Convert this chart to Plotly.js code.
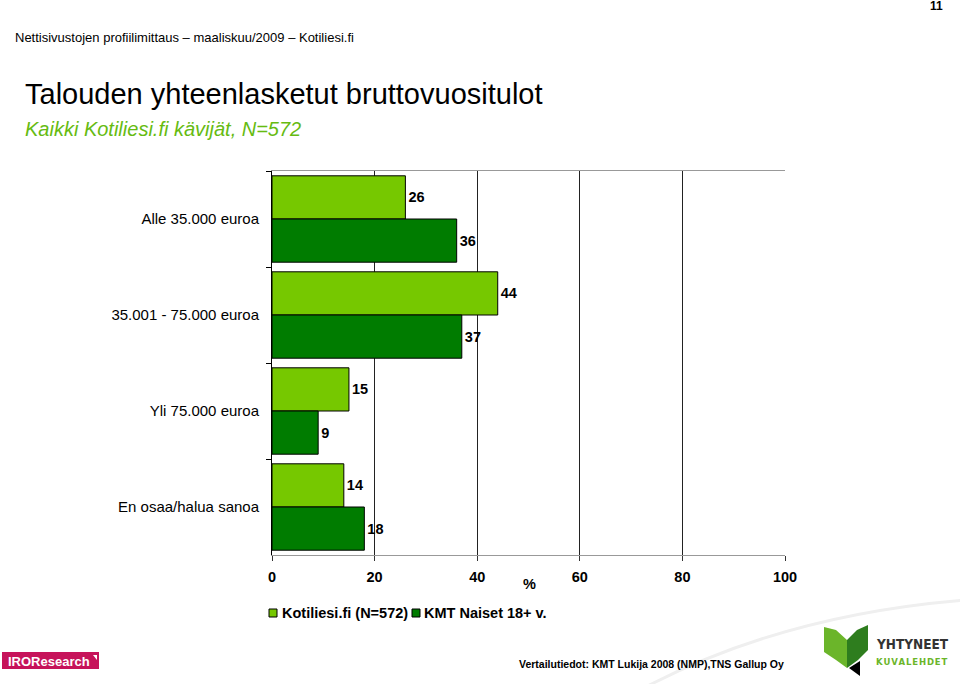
<!DOCTYPE html>
<html><head><meta charset="utf-8">
<script src="https://cdn.plot.ly/plotly-3.0.1.min.js"></script>
<style>html,body{margin:0;padding:0;background:#fff;}#chart{width:960px;height:684px;}</style>
</head><body><div id="chart"></div>
<script>
const categories = ["Alle 35.000 euroa", "35.001 - 75.000 euroa", "Yli 75.000 euroa", "En osaa/halua sanoa"];
const seriesNames = ["Kotiliesi.fi (N=572)", "KMT Naiset 18+ v."];
const kotiliesi = [26, 44, 15, 14];
const kmtNaiset = [36, 37, 9, 18];
const xTicks = [0, 20, 40, 60, 80, 100];

const FONT = "Liberation Sans, Arial, sans-serif";
const COLORS = ['#76C800', '#007C00'];
const L = 272, R = 785, T = 171, B = 555;
const X = px => (px - L) / (R - L);
const Y = py => (B - py) / (B - T);

const mk = (name, vals, color) => ({
  type: 'bar', orientation: 'h', name: name, x: vals, y: categories,
  marker: {color: color, line: {color: '#000', width: 1}},
  texttemplate: '%{x}', textposition: 'outside', cliponaxis: false,
  textfont: {family: FONT, size: 14.5, color: '#000', weight: 'bold'},
  hoverinfo: 'x+name'
});
const data = [mk(seriesNames[0], kotiliesi, COLORS[0]), mk(seriesNames[1], kmtNaiset, COLORS[1])];

const txt = (text, px, py, size, opts) => Object.assign({
  text: text, xref: 'paper', yref: 'paper', x: X(px), y: Y(py), showarrow: false,
  xanchor: 'left', yanchor: 'middle', font: {family: FONT, size: size, color: '#000'}
}, opts || {});

const HS = '\u200A';
const annotations = [
  txt('Nettisivustojen profiilimittaus – maaliskuu/2009 – Kotiliesi.fi', 13, 37, 13),
  txt('<b>11</b>', 945, 6, 12, {xanchor: 'right'}),
  txt('Talouden yhteenlasketut bruttovuositulot', 23, 94, 29),
  txt('<i>Kaikki Kotiliesi.fi kävijät, N=572</i>', 23, 129, 20, {font: {family: FONT, size: 20, color: '#66BB11'}}),
  txt('<b>%</b>', 529, 584, 14.5, {xanchor: 'center'}),
  // legend
  txt('<b>' + seriesNames[0] + '</b>', 280, 613, 14.5),
  txt('<b>' + seriesNames[1] + '</b>', 422, 613, 14.5),
  txt('<b>Vertailutiedot: KMT Lukija 2008 (NMP),TNS Gallup Oy</b>', 517, 664, 10.5),
  txt('<b>IROResearch</b>', 6, 661, 13, {font: {family: FONT, size: 13, color: '#fff'}}),
  txt('<b>YHTYNEET</b>', 874, 644, 13.5, {font: {family: 'DejaVu Sans Condensed, DejaVu Sans, sans-serif', size: 13.5, color: '#333', weight: 'bold'}}),
  txt('<b>' + 'KUVALEHDET'.split('').join(HS) + '</b>', 874, 662, 8.5, {font: {family: 'DejaVu Sans, sans-serif', size: 8.5, color: '#6BB52A'}})
];

const poly = pts => 'M' + pts.map(p => X(p[0]) + ',' + Y(p[1])).join(' L') + ' Z';
const shp = (pts, fill) => ({type: 'path', xref: 'paper', yref: 'paper', path: poly(pts), fillcolor: fill, line: {width: 0}});
const rectPx = (x0, y0, x1, y1, fill, line) => ({type: 'rect', xref: 'paper', yref: 'paper',
  x0: X(x0), x1: X(x1), y0: Y(y1), y1: Y(y0), fillcolor: fill, line: line || {width: 0}});
const shapes = [
  {type: 'path', xref: 'paper', yref: 'paper', layer: 'below',
   path: 'M' + X(640) + ',' + Y(690) + ' Q' + X(780) + ',' + Y(615) + ' ' + X(965) + ',' + Y(600),
   line: {color: '#EFEFEF', width: 3}},
  // legend keys
  rectPx(269, 609, 277, 617, COLORS[0], {color: '#000', width: 1}),
  rectPx(412, 609, 420, 617, COLORS[1], {color: '#000', width: 1}),
  // IRO logo
  rectPx(2, 652, 99, 669, '#C6135A'),
  shp([[93, 655], [97, 655], [97, 660]], '#fff'),
  // Yhtyneet logo
  shp([[824, 627], [836, 630], [847, 640], [847, 668], [836, 660], [824, 652]], '#6BB52A'),
  shp([[847, 640], [857, 630], [868, 625], [868, 650], [858, 660], [847, 668]], '#2E7D1E'),
  shp([[849, 668], [860, 661], [860, 676]], '#000')
];

const layout = {
  width: 960, height: 684,
  margin: {l: L, r: 960 - R, t: T, b: 684 - B, pad: 0},
  paper_bgcolor: '#fff', plot_bgcolor: '#fff',
  font: {family: FONT, size: 14, color: '#000'},
  barmode: 'group', bargap: 0.1, bargroupgap: 0,
  showlegend: false,
  xaxis: {range: [0, 100], tickvals: xTicks, ticktext: xTicks.map(String),
          showgrid: true, gridcolor: '#222', gridwidth: 1, zeroline: false,
          showline: true, linecolor: '#999', linewidth: 1, mirror: true,
          ticks: 'outside', ticklen: 5, tickcolor: '#333', ticklabelstandoff: 4,
          tickfont: {family: FONT, size: 14.5, color: '#000', weight: 'bold'}, fixedrange: true},
  yaxis: {type: 'category', autorange: 'reversed', tickson: 'boundaries',
          ticks: 'outside', ticklen: 5, tickcolor: '#000', showline: true, linecolor: '#000', linewidth: 1,
          showgrid: false, zeroline: false, ticklabelstandoff: 9,
          tickfont: {family: FONT, size: 15, color: '#000'}, fixedrange: true},
  annotations: annotations,
  shapes: shapes
};
Plotly.newPlot('chart', data, layout, {displayModeBar: false, staticPlot: true});
</script></body></html>
